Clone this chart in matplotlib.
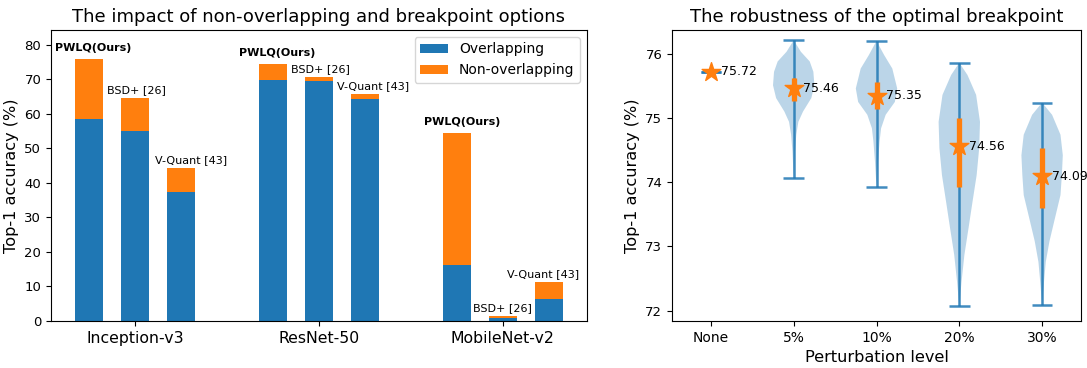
import numpy as np
import matplotlib
matplotlib.use("Agg")
import matplotlib.pyplot as plt

# ---- left panel data ----
models = ["Inception-v3", "ResNet-50", "MobileNet-v2"]
methods = ["PWLQ(Ours)", "BSD+ [26]", "V-Quant [43]"]
overlapping = [58.5, 55.1, 37.3, 69.8, 69.5, 64.1, 16.2, 0.96, 6.5]
non_overlapping = [75.8, 64.5, 44.3, 74.4, 70.6, 65.7, 54.4, 1.45, 11.3]
label_dx = [3, 1, 7, 3, 1, 6, 4, 0, -4]  # points

# ---- right panel data ----
levels = ["None", "5%", "10%", "20%", "30%"]
median = [75.72, 75.46, 75.35, 74.56, 74.09]
q1 = [75.72, 75.26, 75.14, 73.92, 73.60]
q3 = [75.72, 75.63, 75.56, 75.00, 74.53]
vmin = [75.72, 74.06, 73.93, 72.07, 72.09]
vmax = [75.72, 76.21, 76.20, 75.86, 75.24]
# violin outlines: (value, half width)
shape_y = [
    [75.72],
    [76.21, 76.03, 75.88, 75.72, 75.51, 75.31, 75.10, 74.94, 74.74, 74.48, 74.06],
    [76.20, 75.98, 75.77, 75.46, 75.25, 75.05, 74.84, 74.63, 74.32, 73.93],
    [75.86, 75.67, 75.36, 74.94, 74.53, 74.11, 73.70, 73.28, 72.87, 72.45, 72.07],
    [75.24, 75.05, 74.74, 74.42, 74.11, 73.80, 73.39, 73.08, 72.76, 72.45, 72.09],
]
shape_w = [
    [1.0],
    [0, 7, 15.5, 19, 20, 17, 9, 4.5, 2.5, 1.2, 0],
    [0, 7.5, 15.5, 20.3, 18, 9, 4.5, 3, 1.5, 0],
    [0, 8, 16.5, 20.3, 19.5, 17, 13, 9, 5, 2.2, 0],
    [0, 9.5, 17.5, 19.7, 18.8, 17.5, 11.5, 7, 3.5, 1.8, 0],
]

fig = plt.figure(figsize=(10.87, 3.68), dpi=100)
ax1 = fig.add_axes([0.0469, 0.1277, 0.4931, 0.7908])
ax2 = fig.add_axes([0.6182, 0.1277, 0.3763, 0.7908])

# left: stacked bars
x = np.array([g * 4 + i for g in range(len(models)) for i in range(len(methods))])
top = np.array(non_overlapping)
base = np.array(overlapping)
ax1.bar(x, base, 0.6, color="C0", label="Overlapping")
ax1.bar(x, top - base, 0.6, bottom=base, color="C1", label="Non-overlapping")
for k, xi in enumerate(x):
    name = methods[k % 3]
    bold = name.startswith("PWLQ")
    ax1.annotate(name, (xi, top[k]), xytext=(label_dx[k], 4 if bold else 2),
                 textcoords="offset points", ha="center", va="bottom",
                 fontsize=8, fontweight="bold" if bold else "normal")
ax1.set_xticks([1, 5, 9])
ax1.set_xticklabels(models, fontsize=11.3)
ax1.set_ylim(0, 84.2)
ax1.tick_params(axis="y", labelsize=9.5)
ax1.set_ylabel("Top-1 accuracy (%)", fontsize=11.6)
ax1.set_title("The impact of non-overlapping and breakpoint options", fontsize=13)
ax1.legend(loc="upper right", fontsize=10)

# right: violins
pos = np.arange(1, len(levels) + 1)
stats = []
for i in range(len(levels)):
    stats.append(dict(coords=np.array(shape_y[i]), vals=np.array(shape_w[i]),
                      mean=median[i], median=median[i], min=vmin[i], max=vmax[i]))
parts = ax2.violin(stats, positions=pos, widths=0.5, showextrema=True)
for b in parts["bodies"]:
    b.set_facecolor("C0")
    b.set_alpha(0.3)
for key in ("cmins", "cmaxes", "cbars"):
    parts[key].set_color("C0")
    parts[key].set_linewidth(1.8)
    parts[key].set_alpha(0.85)
ax2.vlines(pos[1:], q1[1:], q3[1:], color="C1", lw=3.8, zorder=3)
ax2.scatter(pos, median, marker="*", s=200, color="C1", zorder=4)
for p, m in zip(pos, median):
    ax2.annotate(f"{m:.2f}", (p, m), xytext=(7, 0), textcoords="offset points",
                 ha="left", va="center", fontsize=9)
ax2.set_xticks(pos)
ax2.set_xticklabels(levels, fontsize=10)
ax2.set_xlim(0.53, 5.47)
ax2.set_ylim(71.84, 76.37)
ax2.set_yticks([72, 73, 74, 75, 76])
ax2.tick_params(axis="y", labelsize=9.5)
ax2.set_xlabel("Perturbation level", fontsize=11.6)
ax2.set_ylabel("Top-1 accuracy (%)", fontsize=11.6)
ax2.set_title("The robustness of the optimal breakpoint", fontsize=13)

fig.savefig("out.png", dpi=100)
